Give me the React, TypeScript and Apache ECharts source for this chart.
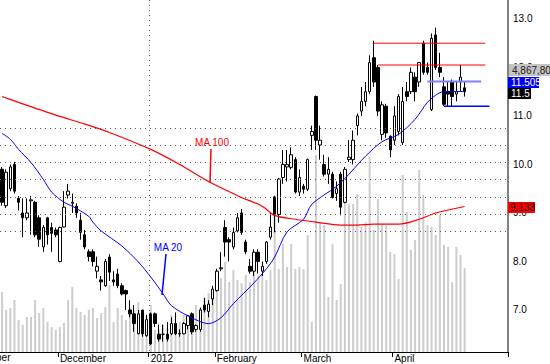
import React, { useEffect, useRef } from "react";
import * as echarts from "echarts";

const FONT = '"Liberation Sans Narrow", "Arial Narrow", "Liberation Sans", Arial, sans-serif';

// category slots (113 trading days + empty space at right)
const categories: string[] = Array.from({ length: 123 }, (_, i) => `D${i}`);

// month boundaries (category index) and labels
const monthIdx = [14, 36, 52, 73, 95];
const monthNames = ["December", "2012", "February", "March", "April"];
const yearIdx = 36;

// price tick labels
const yTicks = [7, 8, 9, 10, 11, 12, 13];

// [open, close, low, high]
const ohlc: number[][] = [
  [9.9, 9.22, 9.15, 9.95], [9.15, 9.84, 9.1, 9.9], [9.5, 9.95, 9.45, 10.0], [10.0, 9.45, 9.4, 10.05],
  [9.3, 9.22, 9.05, 9.35], [9.0, 8.9, 8.5, 9.3], [8.9, 9.0, 8.85, 9.3], [9.25, 9.27, 8.55, 9.35],
  [9.22, 8.55, 8.5, 9.25], [8.9, 8.46, 8.3, 8.95], [8.3, 8.7, 8.2, 8.75], [8.9, 8.55, 8.35, 8.92],
  [8.7, 8.58, 8.2, 8.8], [8.65, 8.55, 8.5, 8.7], [8.0, 8.7, 7.98, 8.72], [8.71, 9.12, 8.7, 9.45],
  [9.37, 9.45, 9.3, 9.6], [9.2, 9.22, 9.0, 9.4], [9.14, 9.0, 8.9, 9.2], [8.85, 8.6, 8.45, 9.0],
  [8.55, 8.3, 8.25, 8.65], [8.2, 8.1, 8.0, 8.25], [8.2, 8.0, 7.9, 8.25], [7.8, 7.9, 7.65, 8.1],
  [7.62, 7.58, 7.4, 7.7], [7.5, 8.0, 7.48, 8.05], [8.09, 7.78, 7.6, 8.15], [7.62, 7.58, 7.5, 7.8],
  [7.74, 7.5, 7.45, 7.85], [7.5, 7.33, 7.3, 7.55], [7.4, 7.33, 7.0, 7.42], [7.0, 6.92, 6.85, 7.2],
  [6.92, 6.72, 6.55, 7.1], [6.51, 6.92, 6.5, 7.0], [7.0, 6.51, 6.45, 7.0], [6.47, 6.8, 6.45, 6.9],
  [6.92, 6.3, 6.28, 6.95], [6.92, 6.72, 6.65, 6.95], [6.5, 6.4, 6.35, 6.7], [6.5, 6.5, 6.35, 6.7],
  [6.5, 6.4, 6.35, 6.75], [6.51, 6.72, 6.48, 6.85], [6.72, 6.51, 6.48, 6.95], [6.51, 6.52, 6.45, 6.6],
  [6.51, 6.72, 6.5, 6.75], [6.68, 6.88, 6.6, 6.9], [6.92, 6.55, 6.5, 6.95], [6.6, 6.68, 6.55, 6.7],
  [6.6, 7.0, 6.55, 7.05], [7.1, 7.0, 6.95, 7.25], [6.97, 7.12, 6.85, 7.2], [7.23, 7.43, 7.1, 7.5],
  [7.4, 7.8, 7.38, 7.85], [7.85, 7.87, 7.8, 8.19], [8.7, 8.4, 8.1, 8.85], [8.45, 8.4, 8.0, 8.5],
  [8.3, 8.6, 8.25, 8.7], [8.63, 8.9, 8.6, 9.0], [9.0, 8.6, 8.55, 9.08], [8.4, 8.2, 8.15, 8.45],
  [7.9, 7.8, 7.75, 8.05], [7.8, 8.19, 7.7, 8.25], [8.19, 8.0, 7.75, 8.25], [7.8, 7.9, 7.7, 8.0],
  [8.0, 8.4, 7.95, 8.42], [8.5, 8.71, 8.45, 9.0], [9.33, 8.97, 8.6, 9.35], [8.97, 9.7, 8.8, 9.72],
  [9.73, 10.0, 9.6, 10.3], [9.95, 10.0, 9.65, 10.3], [9.94, 10.2, 9.9, 10.35], [10.1, 9.43, 9.4, 10.15],
  [9.43, 9.73, 9.35, 9.9], [9.55, 9.49, 9.4, 9.6], [9.49, 10.1, 9.45, 10.12], [10.6, 10.68, 10.3, 10.8],
  [11.4, 10.5, 10.3, 11.42], [10.4, 10.5, 10.1, 10.8], [10.0, 9.8, 9.75, 10.2], [9.8, 9.9, 9.6, 10.15],
  [9.8, 9.32, 9.3, 9.85], [9.4, 9.5, 9.25, 9.65], [9.8, 9.12, 8.95, 9.85], [9.22, 9.9, 9.2, 9.95],
  [10.1, 10.15, 10.05, 10.5], [10.1, 10.5, 10.0, 10.7], [10.8, 11.0, 10.6, 11.05], [11.1, 11.3, 11.0, 11.6],
  [11.3, 11.5, 11.2, 11.7], [11.5, 12.1, 11.45, 12.25], [12.2, 11.7, 11.6, 12.55], [12.0, 11.1, 11.0, 12.05],
  [10.62, 11.23, 10.5, 11.3], [11.2, 10.65, 10.55, 11.25], [10.58, 10.3, 10.15, 10.6], [10.5, 11.0, 10.4, 11.2],
  [10.68, 11.4, 10.6, 11.45], [10.45, 11.3, 10.4, 11.6], [11.5, 11.4, 11.3, 11.7], [11.5, 11.9, 11.45, 12.0],
  [11.8, 11.5, 11.3, 11.9], [11.7, 12.1, 11.6, 12.1], [12.5, 11.9, 11.85, 12.55], [12.0, 11.9, 11.85, 12.1],
  [11.13, 12.6, 11.1, 12.7], [12.67, 12.0, 11.95, 12.82], [12.0, 11.9, 11.8, 12.3], [11.6, 11.24, 11.2, 11.8],
  [11.5, 11.45, 11.2, 11.7], [11.7, 11.4, 11.2, 11.75], [11.45, 11.5, 11.3, 11.7], [11.7, 11.8, 11.5, 12.05],
  [11.58, 11.5, 11.4, 11.7],
];

// volume in millions
const volume: number[] = [
  3.48, 2.44, 2.55, 3.02, 1.86, 1.57, 2.03, 2.03, 3.02, 2.26, 2.55, 1.74, 1.45, 1.28, 1.45, 1.68,
  3.02, 3.77, 2.55, 2.32, 2.15, 2.44, 2.55, 1.97, 2.26, 2.61, 3.89, 1.74, 2.55, 2.15, 1.86, 2.55,
  2.44, 2.9, 2.03, 2.03, 2.73, 1.28, 1.28, 1.57, 1.39, 2.15, 1.45, 1.74, 2.15, 1.97, 2.09, 2.73,
  2.55, 3.13, 3.42, 3.77, 4.06, 4.29, 5.22, 4.06, 4.76, 4.18, 4.0, 4.47, 4.06, 4.87, 4.41, 4.47,
  4.18, 4.76, 9.11, 4.81, 6.26, 4.93, 6.26, 4.81, 4.93, 4.81, 6.79, 1.74, 11.43, 7.54, 7.37, 3.19,
  6.26, 3.02, 3.94, 9.4, 8.58, 8.58, 9.16, 7.25, 7.54, 11.31, 7.08, 8.87, 7.42, 7.37, 5.8, 5.68,
  4.23, 10.27, 8.12, 5.92, 6.5, 10.56, 9.11, 7.37, 7.25, 6.79, 7.95, 6.21, 6.09, 4.06, 6.09, 5.63,
  4.8678,
];

// moving averages: [index, value]
const ma20: number[][] = [
  [0, 10.64], [2, 10.52], [4, 10.31], [7, 10.04], [10, 9.69], [12, 9.43], [15, 9.22], [17, 9.14],
  [21, 8.93], [22, 8.81], [24, 8.63], [29, 8.32], [33, 7.99], [36, 7.68], [39, 7.33], [41, 7.09],
  [45, 6.88], [50, 6.72], [53, 6.84], [56, 7.13], [61, 7.56], [64, 7.85], [66, 8.09], [69, 8.61],
  [73, 8.87], [75, 9.18], [81, 9.55], [84, 9.8], [88, 10.17], [92, 10.47], [96, 10.62], [100, 10.93],
  [103, 11.28], [106, 11.48], [108, 11.5], [112, 11.505],
];
const ma100: number[][] = [
  [0, 11.4], [4, 11.28], [14, 10.99], [19, 10.86], [26, 10.66], [36, 10.31], [43, 10.0], [50, 9.65],
  [58, 9.32], [63, 9.14], [66, 8.95], [71, 8.87], [76, 8.81], [82, 8.75], [86, 8.75], [90, 8.77],
  [96, 8.77], [101, 8.87], [105, 9.0], [112, 9.133],
];

// drawn support / resistance lines: [startIdx, endIdx, price]
const resist1 = [90, 117, 12.5];
const resist2 = [91, 117, 12.05];
const support1 = [103, 116, 11.71];
const support2 = [107, 118, 11.2];

const segSeries = (seg: number[], color: string, width: number) => ({
  type: "line",
  data: [
    [seg[0], seg[2]],
    [seg[1], seg[2]],
  ],
  showSymbol: false,
  silent: true,
  lineStyle: { color, width },
  z: 5,
});

const App: React.FC = () => {
  const ref = useRef<HTMLDivElement>(null);

  useEffect(() => {
    document.body.style.margin = "0";
    if (!ref.current) return;
    const chart = echarts.init(ref.current, undefined, { renderer: "svg" });

    const Z = 100;
    const option: any = {
      animation: false,
      backgroundColor: "#ffffff",
      grid: { left: 0, right: 42, top: 0, bottom: 12, containLabel: false },
      xAxis: {
        type: "category",
        data: categories,
        boundaryGap: true,
        axisLine: { show: true, lineStyle: { color: "#000", width: 1 } },
        axisTick: {
          show: true,
          interval: (idx: number) => monthIdx.includes(idx),
          length: 5,
          lineStyle: { color: "#000" },
        },
        axisLabel: {
          show: true,
          interval: (idx: number) => monthIdx.includes(idx),
          formatter: (_v: string, idx: number) => {
            const k = monthIdx.indexOf(idx);
            return k >= 0 ? monthNames[k] : "";
          },
          align: "left",
          margin: 1,
          color: "#000",
          fontFamily: FONT,
          fontSize: 10,
        },
        splitLine: { show: false },
      },
      yAxis: [
        {
          type: "value",
          position: "right",
          min: 6.134,
          max: 13.39,
          splitNumber: 7,
          scale: true,
          axisLine: { show: true, lineStyle: { color: "#808080", width: 2 } },
          axisTick: { show: false },
          splitLine: { show: false },
          axisLabel: {
            showMinLabel: false,
            showMaxLabel: false,
            formatter: (v: number) => v.toFixed(1),
            color: "#000",
            fontFamily: FONT,
            fontSize: 10,
            margin: 5,
          },
        },
        {
          type: "value",
          min: 0,
          max: 20.42,
          show: false,
          splitLine: { show: false },
        },
      ],
      series: [
        {
          type: "bar",
          name: "Volume",
          yAxisIndex: 1,
          data: volume,
          barWidth: 2,
          itemStyle: { color: "#cdcdcd" },
          z: 1,
          silent: true,
          markLine: {
            silent: true,
            symbol: "none",
            label: { show: false },
            lineStyle: { color: "#555", type: [1, 4], width: 1 },
            data: yTicks.map((t) => ({ yAxis: t, yAxisIndex: 0 })),
          },
        },
        {
          type: "candlestick",
          name: "Price",
          data: ohlc,
          barWidth: 3,
          z: 3,
          itemStyle: {
            color: "#ffffff",
            color0: "#000000",
            borderColor: "#000000",
            borderColor0: "#000000",
            borderWidth: 1,
          },
        },
        {
          type: "line",
          name: "MA 20",
          data: ma20,
          showSymbol: false,
          smooth: 0.3,
          lineStyle: { color: "#0000ff", width: 1 },
          z: 4,
        },
        {
          type: "line",
          name: "MA 100",
          data: ma100,
          showSymbol: false,
          smooth: 0.3,
          lineStyle: { color: "#ff0000", width: 1.2 },
          z: 4,
        },
        segSeries(resist1, "#ff0000", 1),
        segSeries(resist2, "#ff0000", 1),
        segSeries(support1, "#8080ff", 2),
        segSeries(support2, "#0000ff", 1.5),
      ],
      graphic: [
        {
          type: "text",
          x: 10.5,
          y: 357,
          style: { text: "November", fill: "#000", font: `10px ${FONT}`, textAlign: "right", textVerticalAlign: "middle" },
        },
        {
          type: "text",
          x: 212,
          y: 142,
          style: { text: "MA 100", fill: "#ff0000", font: `10px ${FONT}`, textAlign: "center", textVerticalAlign: "middle" },
        },
        { type: "line", shape: { x1: 211, y1: 149, x2: 210, y2: 183 }, style: { stroke: "#ff0000", lineWidth: 1.5 } },
        {
          type: "text",
          x: 168,
          y: 247,
          style: { text: "MA 20", fill: "#0000ff", font: `10px ${FONT}`, textAlign: "center", textVerticalAlign: "middle" },
        },
        { type: "line", shape: { x1: 166, y1: 254, x2: 162, y2: 295 }, style: { stroke: "#0000ff", lineWidth: 1.5 } },
        { type: "rect", z: Z, shape: { x: 509, y: 64, width: 41, height: 12 }, style: { fill: "#c4c4c4" } },
        { type: "text", z: Z + 1, x: 512, y: 70, style: { text: "4,867,800", fill: "#222", font: `10px ${FONT}`, textVerticalAlign: "middle" } },
        { type: "rect", z: Z, shape: { x: 508, y: 77, width: 31, height: 11 }, style: { fill: "#0000ff" } },
        { type: "text", z: Z + 1, x: 511, y: 82.5, style: { text: "11.505", fill: "#fff", font: `10px ${FONT}`, textVerticalAlign: "middle" } },
        { type: "rect", z: Z, shape: { x: 508, y: 88, width: 23, height: 11 }, style: { fill: "#000" } },
        { type: "text", z: Z + 1, x: 511, y: 93.5, style: { text: "11.5", fill: "#fff", font: `10px ${FONT}`, textVerticalAlign: "middle" } },
        { type: "rect", z: Z, shape: { x: 508, y: 202, width: 27, height: 11 }, style: { fill: "#ff0000" } },
        { type: "text", z: Z + 1, x: 510, y: 207.5, style: { text: "9.133", fill: "#000", font: `10px ${FONT}`, textVerticalAlign: "middle" } },
      ],
    };

    chart.setOption(option);

    // vertical dotted line on the year boundary (left edge of the first 2012 category)
    const c0 = chart.convertToPixel({ xAxisIndex: 0 }, yearIdx) as number;
    const c1 = chart.convertToPixel({ xAxisIndex: 0 }, yearIdx + 1) as number;
    const xb = Math.round(c0 - (c1 - c0) / 2) + 0.5;
    const yTop = chart.convertToPixel({ yAxisIndex: 0 }, 13.39) as number;
    const yBot = chart.convertToPixel({ yAxisIndex: 0 }, 6.134) as number;
    chart.setOption({
      graphic: [
        {
          type: "line",
          id: "yearLine",
          z: 0,
          shape: { x1: xb, y1: yTop, x2: xb, y2: yBot },
          style: { stroke: "#555", lineWidth: 1, lineDash: [1, 4] },
        },
      ],
    });

    return () => chart.dispose();
  }, []);

  return <div ref={ref} style={{ position: "fixed", left: 0, top: 0, width: 550, height: 364 }} />;
};

export default App;
